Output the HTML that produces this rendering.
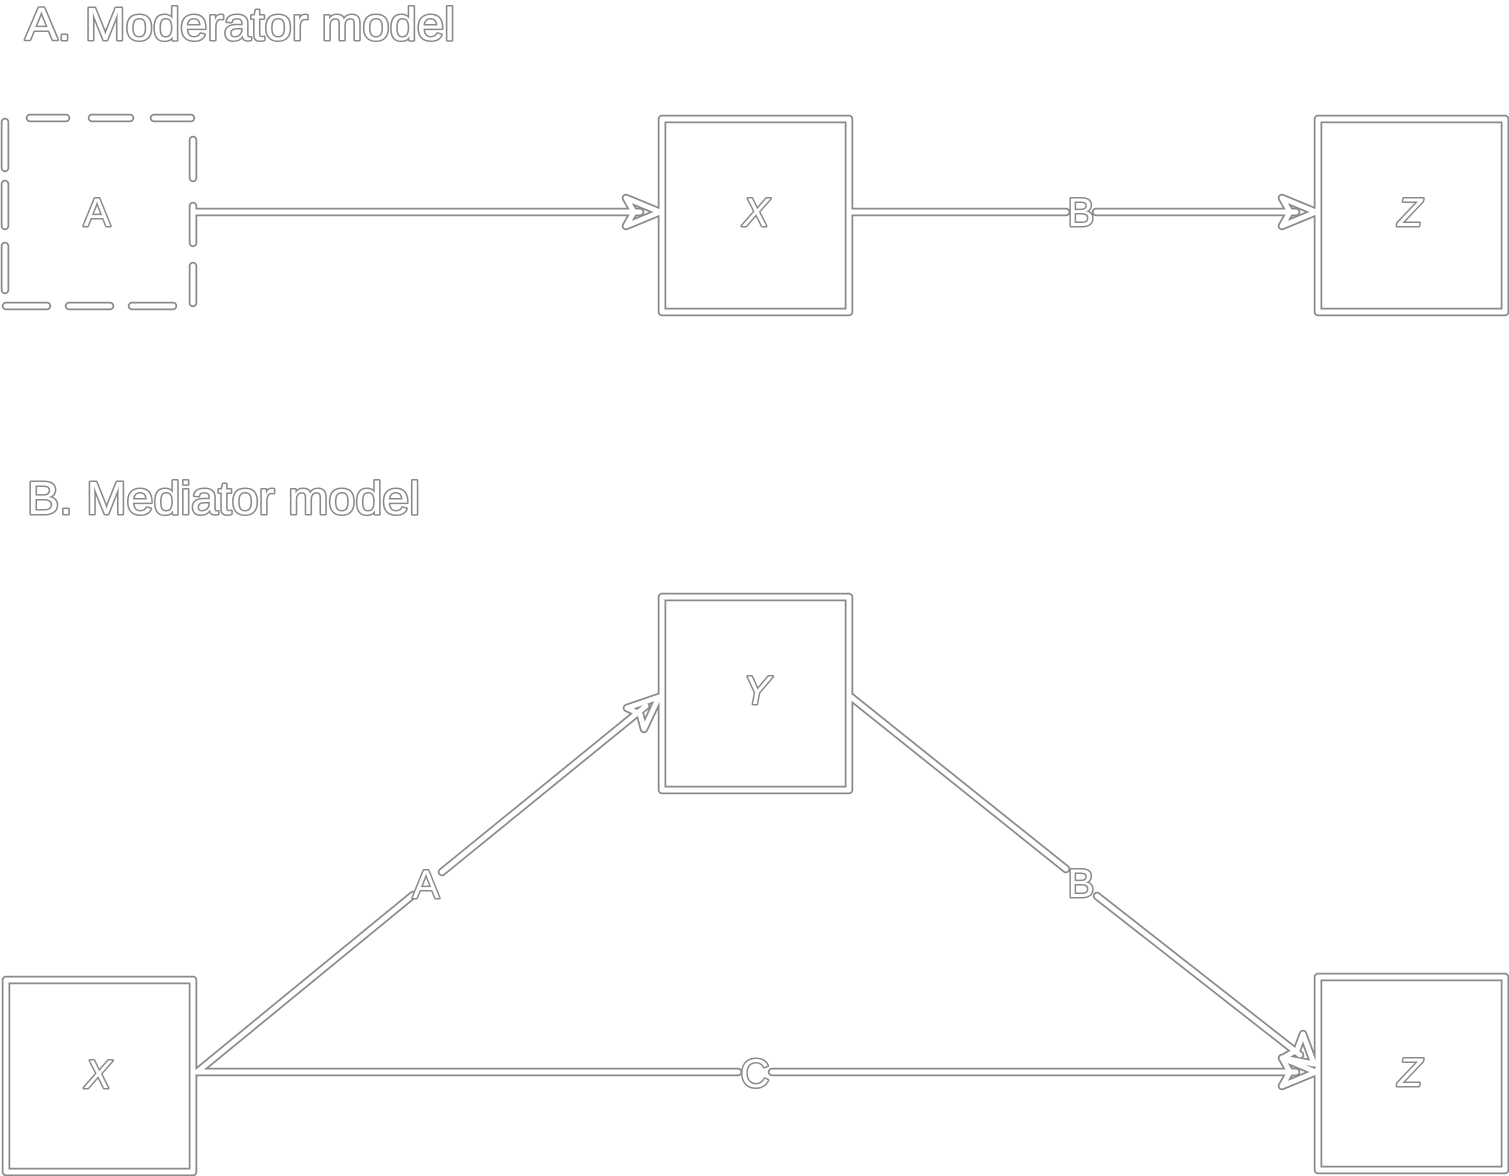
<!DOCTYPE html>
<html><head><meta charset="utf-8"><style>
html,body{margin:0;padding:0;background:#fff;}
svg{display:block;}
.g{fill:none;stroke:#8a8a8a;stroke-width:8.5;stroke-linejoin:round;stroke-linecap:round;}
.w{fill:none;stroke:#fff;stroke-width:5;stroke-linejoin:round;stroke-linecap:round;}
.t{font-family:"Liberation Sans",sans-serif;fill:#fff;stroke:#8a8a8a;stroke-width:3;paint-order:stroke;stroke-linejoin:round;}
</style></head><body>
<svg width="1509" height="1176" viewBox="0 0 1509 1176" xmlns="http://www.w3.org/2000/svg">
<defs>
<g id="shapes">
  <path d="M5,122 V168 M5,184 V226 M5,246 V290 M30,118 H66 M92,118 H130 M154,118 H191 M193,140 V178 M193,206 V243 M193,266 V303 M6,306 H47 M69,306 H110 M132,306 H173"/>
  <path d="M195,212 H640"/>
  <path d="M626,198 L660,212 L626,226 L634,212 Z"/>
  <rect x="662" y="119" width="187" height="193"/>
  <path d="M851,212 H1066 M1096,212 H1296"/>
  <path d="M1282,198 L1316,212 L1282,226 L1290,212 Z"/>
  <rect x="1318" y="119" width="187" height="193"/>
  <rect x="662" y="597" width="187" height="193"/>
  <rect x="6" y="980" width="187" height="192"/>
  <rect x="1318" y="977" width="187" height="193"/>
  <path d="M197,1072 L413,895 M442,872 L646,706"/>
  <path d="M627,708 L659,697 L644,729 L640,714 Z"/>
  <path d="M851,697 L1066,869 M1097,896 L1300,1055"/>
  <path d="M1283,1058 L1314,1064 L1303,1034 L1297,1050 Z"/>
  <path d="M197,1072 H738 M772,1072 H1296"/>
  <path d="M1282,1058 L1316,1072 L1282,1086 L1290,1072 Z"/>
</g>
</defs>
<use href="#shapes" class="g"/>
<use href="#shapes" class="w"/>
<text class="t" x="25" y="40" font-size="46" textLength="430" lengthAdjust="spacingAndGlyphs">A. Moderator model</text>
<text class="t" x="27" y="514" font-size="46" textLength="393" lengthAdjust="spacingAndGlyphs">B. Mediator model</text>
<text class="t" x="97" y="226" font-size="40" text-anchor="middle">A</text>
<text class="t" x="756" y="226" font-size="40" font-style="italic" text-anchor="middle">X</text>
<text class="t" x="1081" y="226" font-size="40" text-anchor="middle">B</text>
<text class="t" x="1410" y="226" font-size="40" font-style="italic" text-anchor="middle">Z</text>
<text class="t" x="757" y="704" font-size="40" font-style="italic" text-anchor="middle">Y</text>
<text class="t" x="426" y="898" font-size="40" text-anchor="middle">A</text>
<text class="t" x="1081" y="897" font-size="40" text-anchor="middle">B</text>
<text class="t" x="98" y="1088" font-size="40" font-style="italic" text-anchor="middle">X</text>
<text class="t" x="755" y="1087" font-size="40" text-anchor="middle">C</text>
<text class="t" x="1410" y="1086" font-size="40" font-style="italic" text-anchor="middle">Z</text>
</svg>
</body></html>
